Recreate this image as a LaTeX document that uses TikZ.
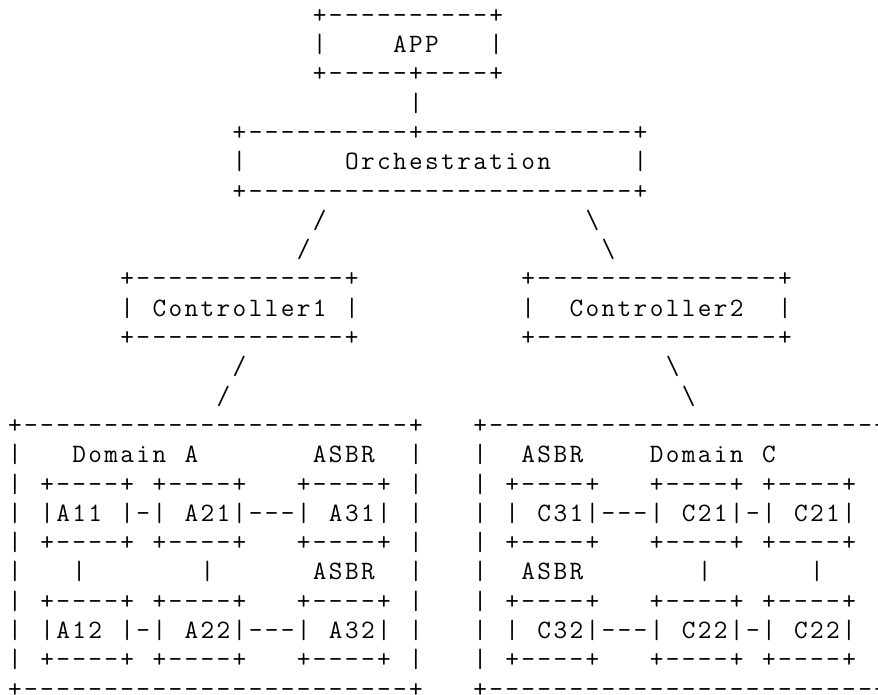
\documentclass[tikz,border=0pt]{standalone}
\frenchspacing
% character grid: every character sits centred in a cell 16.04pt wide,
% rows are 29.3pt apart
\newlength\cellw
\setlength\cellw{16.04pt}
\ExplSyntaxOn
\NewDocumentCommand\cells{m}
  { \str_map_inline:nn {#1} { \makebox[\cellw][c]{##1} } }
\ExplSyntaxOff
\tikzset{
  ascii/.style={inner sep=0pt, outer sep=0pt, anchor=base west,
    font=\ttfamily\fontsize{26.5pt}{29.3pt}\selectfont},
}
% \cellat{name}{column}{row}{text}: text starting at a grid cell
\newcommand\cellat[4]{\node[ascii] (#1) at ({0.435+#2},{0.795+#3}) {\cells{#4}};}
% a single backslash in its cell
\newcommand\bsat[3]{\node[ascii] (#1) at ({0.435+#2},{0.795+#3})
  {\makebox[\cellw][c]{\textbackslash}};}
\begin{document}
\begin{tikzpicture}[x=16.04pt, y=-29.3pt]
\useasboundingbox (0pt,0pt) rectangle (878pt,-695pt);
\fill[white] (0pt,0pt) rectangle (878pt,-695pt);
\clip (0pt,0pt) rectangle (878pt,-695pt);

% application box
\cellat{appTop}{19}{0}{+----------+}
\cellat{appL}{19}{1}{|}
\cellat{app}{24}{1}{APP}
\cellat{appR}{30}{1}{|}
\cellat{appBot}{19}{2}{+-----+----+}
\cellat{appLink}{25}{3}{|}

% orchestration box
\cellat{orchTop}{14}{4}{+----------+-------------+}
\cellat{orchL}{14}{5}{|}
\cellat{orch}{21}{5}{Orchestration}
\cellat{orchR}{39}{5}{|}
\cellat{orchBot}{14}{6}{+------------------------+}

% links to the controllers
\cellat{lkA1}{19}{7}{/}
\cellat{lkA2}{18}{8}{/}
\bsat{lkB1}{36}{7}
\bsat{lkB2}{37}{8}

% controllers
\cellat{c1Top}{7}{9}{+-------------+}
\cellat{c1L}{7}{10}{|}
\cellat{ctrlA}{9}{10}{Controller1}
\cellat{c1R}{21}{10}{|}
\cellat{c1Bot}{7}{11}{+-------------+}
\cellat{c2Top}{32}{9}{+---------------+}
\cellat{c2L}{32}{10}{|}
\cellat{ctrlB}{35}{10}{Controller2}
\cellat{c2R}{48}{10}{|}
\cellat{c2Bot}{32}{11}{+---------------+}

% links to the domains
\cellat{lkC1}{14}{12}{/}
\cellat{lkC2}{13}{13}{/}
\bsat{lkD1}{41}{12}
\bsat{lkD2}{42}{13}

% domain frames
\cellat{dATop}{0}{14}{+------------------------+}
\cellat{dABot}{0}{23}{+------------------------+}
\cellat{dCTop}{29}{14}{+------------------------+}
\cellat{dCBot}{29}{23}{+------------------------+}
\foreach \r in {15,...,22} {
  \cellat{dAL\r}{0}{\r}{|}
  \cellat{dAR\r}{25}{\r}{|}
  \cellat{dCL\r}{29}{\r}{|}
}

% domain A
\cellat{domA}{4}{15}{Domain A}
\cellat{asbrA1}{19}{15}{ASBR}
\cellat{rowA1}{2}{17}{|A11 |-| A21|---| A31|}
\cellat{vA1}{4}{19}{|}
\cellat{vA2}{12}{19}{|}
\cellat{asbrA2}{19}{19}{ASBR}
\cellat{rowA2}{2}{21}{|A12 |-| A22|---| A32|}

% domain C
\cellat{asbrC1}{32}{15}{ASBR}
\cellat{domC}{40}{15}{Domain C}
\cellat{rowC1}{31}{17}{| C31|---| C21|-| C21|}
\cellat{asbrC2}{32}{19}{ASBR}
\cellat{vC1}{43}{19}{|}
\cellat{vC2}{50}{19}{|}
\cellat{rowC2}{31}{21}{| C32|---| C22|-| C22|}

% router box edges
\foreach \r in {16,18,20,22} {
  \foreach \c in {2,9,18,31,40,47} {
    \cellat{edge\r-\c}{\c}{\r}{+----+}
  }
}
\end{tikzpicture}
\end{document}
